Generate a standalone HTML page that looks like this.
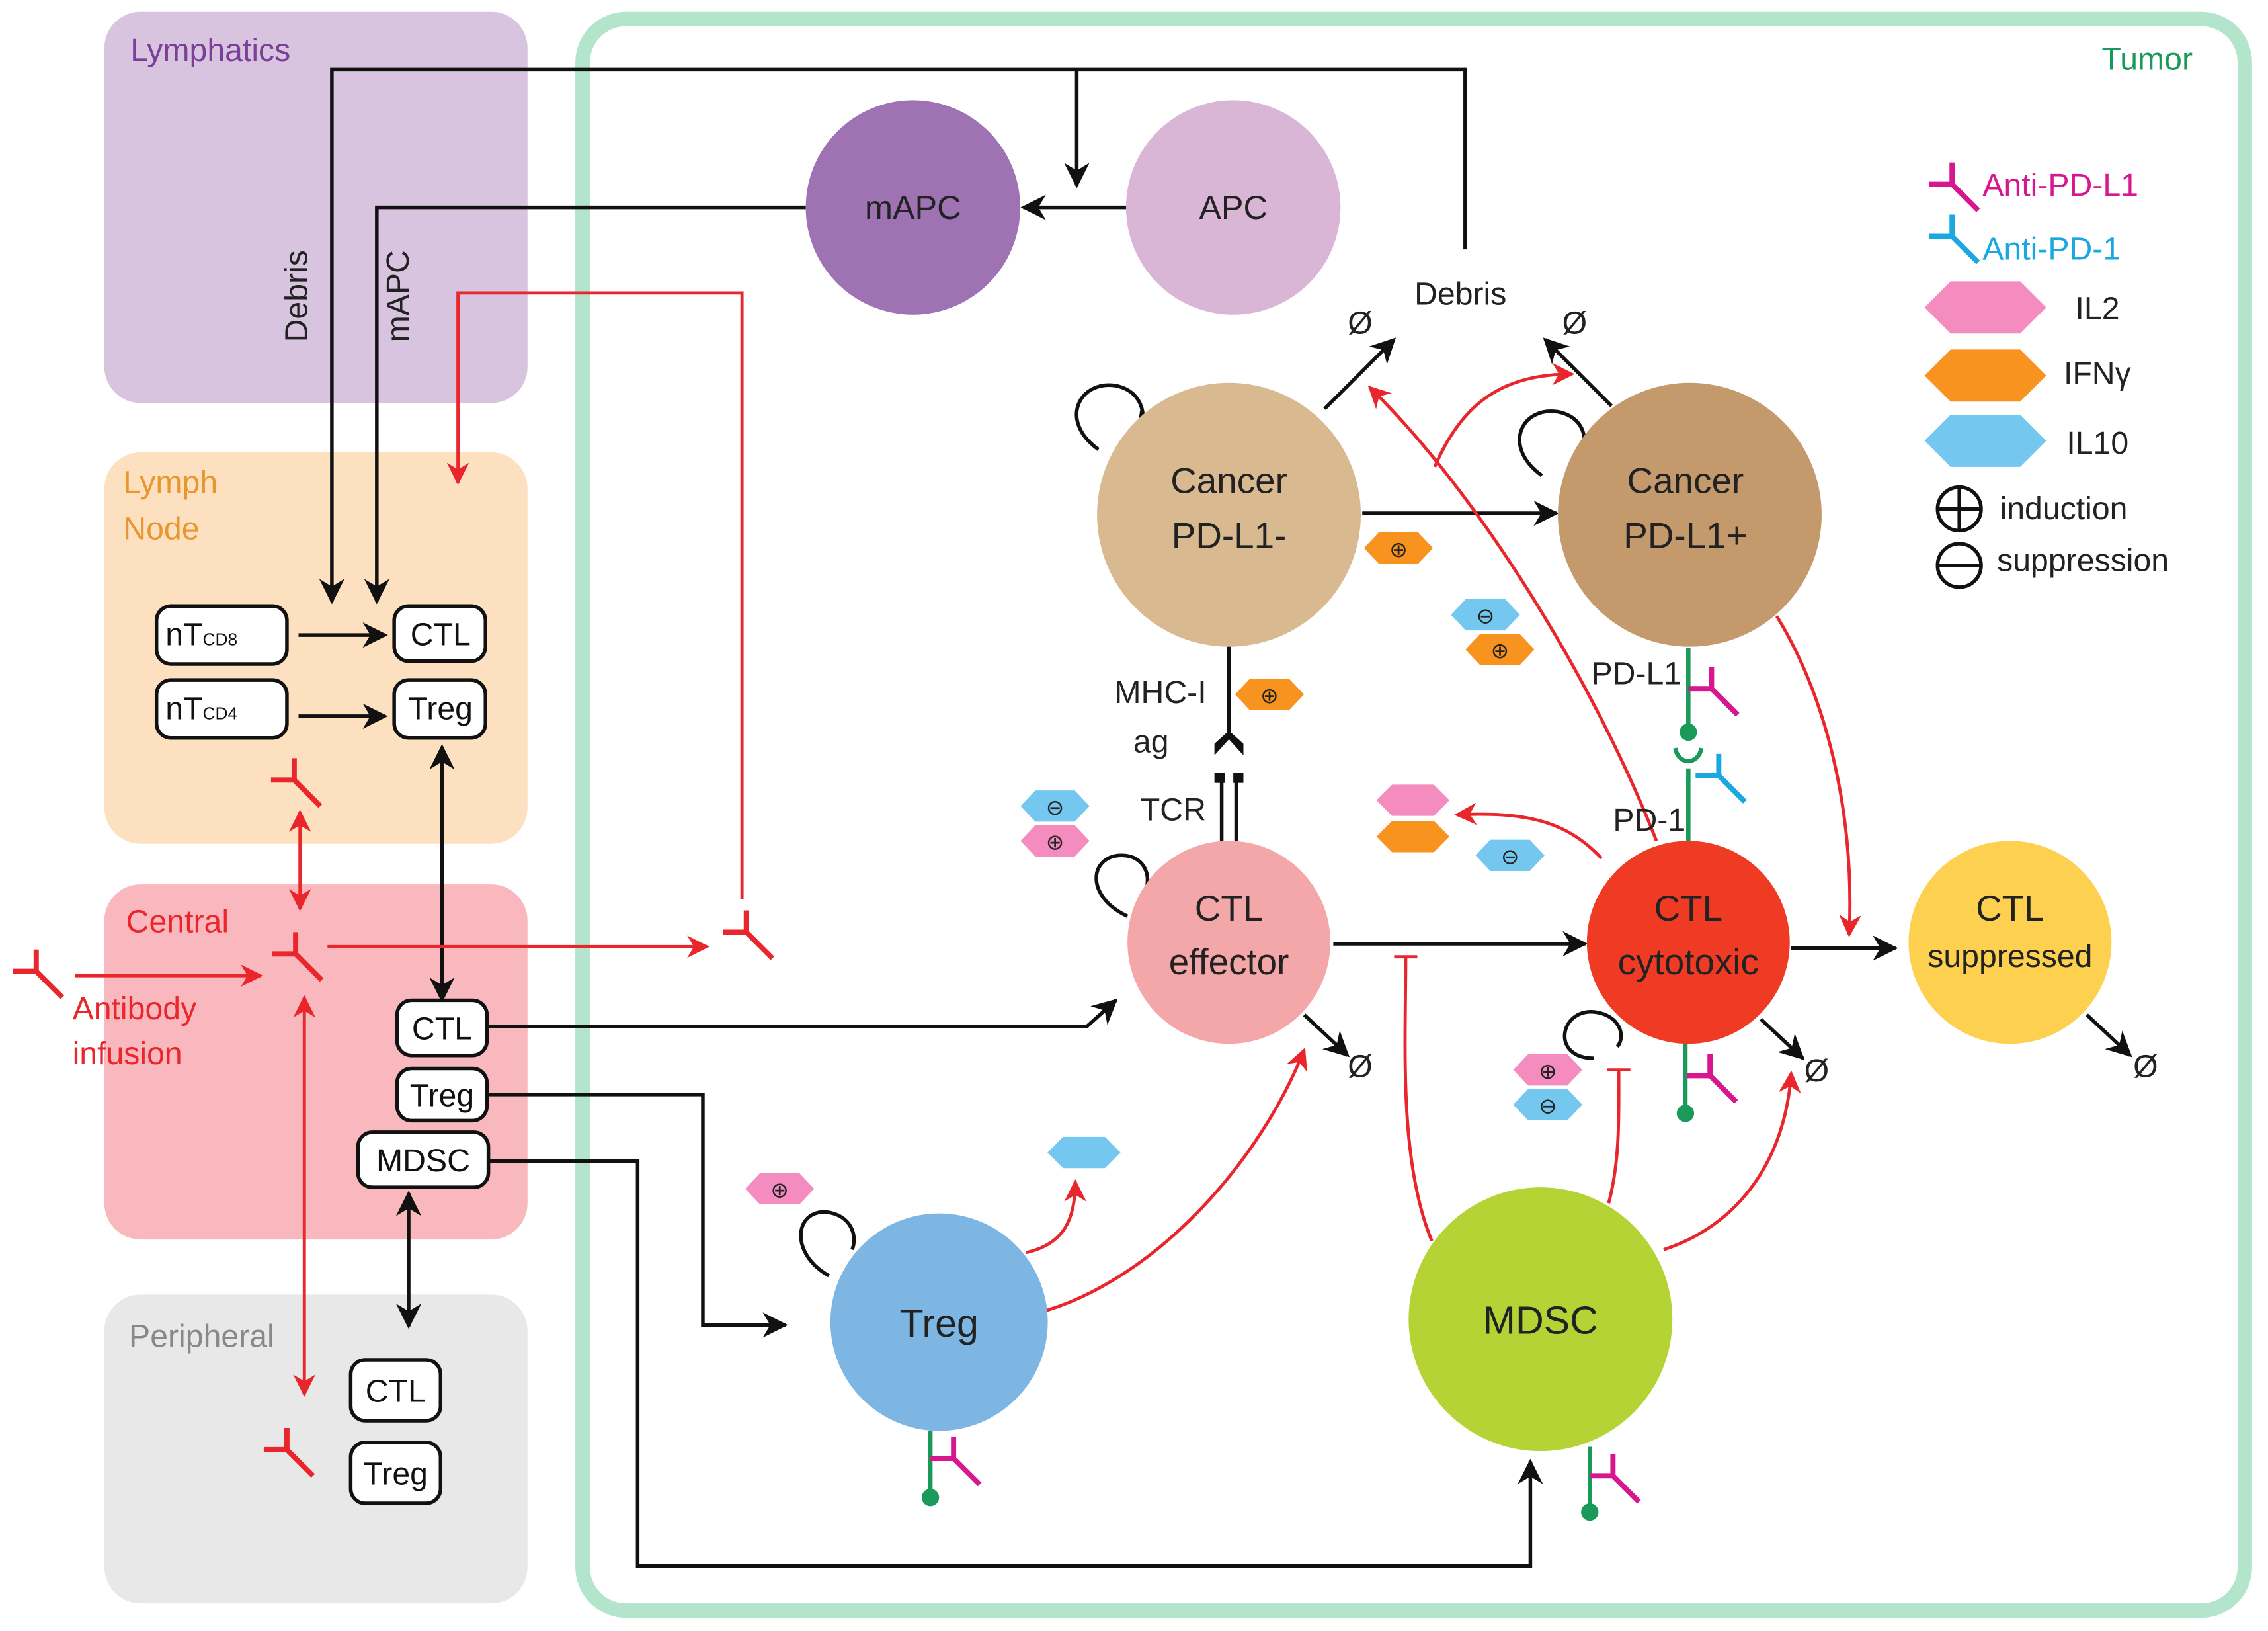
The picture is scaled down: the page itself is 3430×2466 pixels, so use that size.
<!DOCTYPE html>
<html><head><meta charset="utf-8"><style>
html,body{margin:0;padding:0;background:#fff}
svg{display:block}
text{font-family:"Liberation Sans","DejaVu Sans",sans-serif}
</style></head><body>
<svg width="3430" height="2466" viewBox="0 0 1565 1125" xmlns="http://www.w3.org/2000/svg">
<defs>
<marker id="ab" viewBox="0 0 10 10" refX="9" refY="5" markerWidth="7" markerHeight="7" orient="auto"><path d="M0,0 L10,5 L0,10 L3,5 z" fill="#111"/></marker>
<marker id="ar" viewBox="0 0 10 10" refX="9" refY="5" markerWidth="7" markerHeight="7" orient="auto"><path d="M0,0 L10,5 L0,10 L3,5 z" fill="#e8262b"/></marker>
<marker id="abs" viewBox="0 0 10 10" refX="1" refY="5" markerWidth="7" markerHeight="7" orient="auto"><path d="M10,0 L0,5 L10,10 L7,5 z" fill="#111"/></marker>
<marker id="ars" viewBox="0 0 10 10" refX="1" refY="5" markerWidth="7" markerHeight="7" orient="auto"><path d="M10,0 L0,5 L10,10 L7,5 z" fill="#e8262b"/></marker>
<g id="y"><path d="M0,0 V-15 M0,0 H-16 M0,0 L18,18" stroke-width="3.6" fill="none"/></g>
<g id="hx"><polygon points="-14,0 -8,-9 8,-9 14,0 8,9 -8,9"/></g>
</defs>
<!-- compartments -->
<rect x="72" y="8" width="292" height="270" rx="25" fill="#d9c4e0"/>
<text x="90" y="42" font-size="22" fill="#7b3f9a">Lymphatics</text>
<rect x="72" y="312" width="292" height="270" rx="25" fill="#fde0c0"/>
<text x="85" y="340" font-size="22" fill="#e8962e">Lymph</text>
<text x="85" y="372" font-size="22" fill="#e8962e">Node</text>
<rect x="72" y="610" width="292" height="245" rx="25" fill="#f9b8bd"/>
<text x="87" y="643" font-size="22" fill="#e8262b">Central</text>
<rect x="72" y="893" width="292" height="213" rx="25" fill="#e8e8e8"/>
<text x="89" y="929" font-size="22" fill="#888">Peripheral</text>
<rect x="402" y="13" width="1147" height="1098" rx="30" fill="none" stroke="#b3e4cc" stroke-width="10"/>
<text x="1513" y="48" font-size="22" fill="#1a9a5a" text-anchor="end">Tumor</text>

<!-- black connectors -->
<g stroke="#111" stroke-width="2.5" fill="none">
<path d="M1011,172 L1011,48 L229,48 L229,415" marker-end="url(#ab)"/>
<path d="M743,48 L743,128" marker-end="url(#ab)"/>
<path d="M778,143 L706,143" marker-end="url(#ab)"/>
<path d="M556,143 L260,143 L260,415" marker-end="url(#ab)"/>
<path d="M206,438 L266,438" marker-end="url(#ab)"/>
<path d="M206,494 L266,494" marker-end="url(#ab)"/>
<path d="M305,690 L305,515" marker-end="url(#ab)" marker-start="url(#abs)"/>
<path d="M282,915 L282,823" marker-end="url(#ab)" marker-start="url(#abs)"/>
<path d="M336,708 L750,708 L770,690" marker-end="url(#ab)"/>
<path d="M336,755 L485,755 L485,914 L542,914" marker-end="url(#ab)"/>
<path d="M337,801 L440,801 L440,1080 L1056,1080 L1056,1008" marker-end="url(#ab)"/>
<path d="M940,354 L1074,354" marker-end="url(#ab)"/>
<path d="M920,651 L1094,651" marker-end="url(#ab)"/>
<path d="M1236,654 L1308,654" marker-end="url(#ab)"/>
<path d="M914,282 L962,234" marker-end="url(#ab)"/>
<path d="M1112,280 L1066,234" marker-end="url(#ab)"/>
<path d="M900,700 L930,728" marker-end="url(#ab)"/>
<path d="M1215,703 L1244,730" marker-end="url(#ab)"/>
<path d="M1440,700 L1470,728" marker-end="url(#ab)"/>
<path d="M848,446 L848,505 M843,535 L843,580 M853,535 L853,580"/>
<path d="M758,310 C730,290 745,262 770,266 C790,270 792,290 785,300" marker-end="url(#ab)"/>
<path d="M1064,328 C1036,308 1050,280 1075,284 C1095,288 1096,306 1090,315"/>
<path d="M778,632 C748,618 752,590 774,590 C790,590 795,605 790,615"/>
<path d="M572,880 C545,865 548,835 570,836 C587,838 592,852 588,862"/>
<path d="M1100,730 C1070,730 1076,696 1100,698 C1118,700 1122,715 1116,722"/>
</g>
<polygon points="838,521 848,510 858,521 858,513 848,504 838,513" fill="#111"/>
<rect x="838" y="533" width="7" height="7" fill="#111"/><rect x="851" y="533" width="7" height="7" fill="#111"/>

<!-- red connectors -->
<g stroke="#e8262b" stroke-width="2.2" fill="none">
<path d="M512,620 L512,202 L316,202 L316,333" marker-end="url(#ar)"/>
<path d="M226,653 L488,653" marker-end="url(#ar)"/>
<path d="M52,673 L180,673" marker-end="url(#ar)"/>
<path d="M207,627 L207,560" marker-end="url(#ar)" marker-start="url(#ars)"/>
<path d="M210,688 L210,962" marker-start="url(#ars)" marker-end="url(#ar)"/>
<path d="M1143,580 C1100,470 1020,340 945,267" marker-end="url(#ar)"/>
<path d="M990,322 C1010,275 1040,258 1085,258" marker-end="url(#ar)"/>
<path d="M1226,425 C1260,480 1280,560 1276,645" marker-end="url(#ar)"/>
<path d="M1105,592 C1080,565 1050,560 1005,562" marker-end="url(#ar)"/>
<path d="M708,864 C735,858 742,840 742,815" marker-end="url(#ar)"/>
<path d="M722,904 C800,880 870,800 900,724" marker-end="url(#ar)"/>
<path d="M1148,862 C1200,845 1232,800 1236,740" marker-end="url(#ar)"/>
<path d="M988,856 C965,800 970,720 970,660 M962,660 L978,660"/>
<path d="M1110,830 C1118,800 1117,770 1117,738 M1109,738 L1125,738"/>
</g>

<!-- circles -->
<circle cx="630" cy="143" r="74" fill="#9e72b3"/>
<circle cx="851" cy="143" r="74" fill="#d9b6d6"/>
<circle cx="848" cy="355" r="91" fill="#d9b98f"/>
<circle cx="1166" cy="355" r="91" fill="#c49a6c"/>
<circle cx="848" cy="650" r="70" fill="#f4a7a8"/>
<circle cx="1165" cy="650" r="70" fill="#ef3b24"/>
<circle cx="1387" cy="650" r="70" fill="#fdd04f"/>
<circle cx="648" cy="912" r="75" fill="#7eb6e3"/>
<circle cx="1063" cy="910" r="91" fill="#b5d334"/>
<g font-size="25" fill="#222" text-anchor="middle">
<text x="630" y="151" font-size="23">mAPC</text>
<text x="851" y="151" font-size="23">APC</text>
<text x="848" y="340">Cancer</text><text x="848" y="378">PD-L1-</text>
<text x="1163" y="340">Cancer</text><text x="1163" y="378">PD-L1+</text>
<text x="848" y="635">CTL</text><text x="848" y="672">effector</text>
<text x="1165" y="635">CTL</text><text x="1165" y="672">cytotoxic</text>
<text x="1387" y="635">CTL</text><text x="1387" y="667" font-size="22">suppressed</text>
<text x="648" y="922" font-size="27">Treg</text>
<text x="1063" y="920" font-size="27">MDSC</text>
</g>

<!-- small boxes -->
<g fill="#fff" stroke="#111" stroke-width="2.5">
<rect x="108" y="418" width="90" height="40" rx="10"/><rect x="272" y="418" width="63" height="38" rx="10"/>
<rect x="108" y="469" width="90" height="40" rx="10"/><rect x="272" y="469" width="63" height="40" rx="10"/>
<rect x="274" y="690" width="62" height="38" rx="10"/><rect x="274" y="737" width="62" height="36" rx="10"/>
<rect x="247" y="781" width="90" height="38" rx="10"/>
<rect x="242" y="938" width="62" height="42" rx="10"/><rect x="242" y="995" width="62" height="42" rx="10"/>
</g>
<g font-size="22" fill="#111" text-anchor="middle">
<text x="139" y="445">nT<tspan font-size="12">CD8</tspan></text>
<text x="304" y="445">CTL</text>
<text x="139" y="496">nT<tspan font-size="12">CD4</tspan></text>
<text x="304" y="496">Treg</text>
<text x="305" y="717">CTL</text><text x="305" y="763">Treg</text><text x="292" y="808">MDSC</text>
<text x="273" y="967">CTL</text><text x="273" y="1024">Treg</text>
</g>
<g font-size="22" fill="#222">
<text transform="translate(212,236) rotate(-90)">Debris</text>
<text transform="translate(282,236) rotate(-90)">mAPC</text>
<text x="976" y="210">Debris</text>
<text x="769" y="485">MHC-I</text><text x="782" y="519">ag</text>
<text x="787" y="566">TCR</text>
<text x="1098" y="472">PD-L1</text>
<text x="1113" y="573">PD-1</text>
<text x="930" y="230">Ø</text><text x="1078" y="230">Ø</text>
<text x="930" y="743">Ø</text><text x="1245" y="746">Ø</text><text x="1472" y="743">Ø</text>
</g>
<g font-size="22" fill="#e8262b"><text x="50" y="703">Antibody</text><text x="50" y="734">infusion</text></g>

<!-- red antibodies -->
<g stroke="#e8262b">
<use href="#y" transform="translate(203,538)"/>
<use href="#y" transform="translate(204,658)"/>
<use href="#y" transform="translate(25,670)"/>
<use href="#y" transform="translate(515,643)"/>
<use href="#y" transform="translate(198,1000)"/>
</g>

<!-- receptors -->
<g stroke="#1a9a5a" stroke-width="3"><line x1="1165" y1="447" x2="1165" y2="500"/><line x1="1165" y1="530" x2="1165" y2="580"/>
<line x1="1163" y1="720" x2="1163" y2="765"/><line x1="642" y1="987" x2="642" y2="1030"/><line x1="1097" y1="998" x2="1097" y2="1040"/></g>
<path d="M1156,516 C1158,528 1172,528 1174,516" stroke="#1a9a5a" stroke-width="3" fill="none"/>
<g fill="#1a9a5a"><circle cx="1165" cy="505" r="6"/><circle cx="1163" cy="768" r="6"/><circle cx="642" cy="1033" r="6"/><circle cx="1097" cy="1043" r="6"/></g>
<g stroke="#d6178f">
<use href="#y" transform="translate(1181,475)"/>
<use href="#y" transform="translate(1180,742)"/>
<use href="#y" transform="translate(658,1006)"/>
<use href="#y" transform="translate(1113,1018)"/>
<use href="#y" transform="translate(1347,127)"/>
</g>
<g stroke="#1ba8e0">
<use href="#y" transform="translate(1186,535)"/>
<use href="#y" transform="translate(1347,163)"/>
</g>

<!-- hexagons -->
<g font-size="15" text-anchor="middle" fill="#222">
<use href="#hx" transform="translate(965,378) scale(1.7,1.2)" fill="#f7931e"/><text x="965" y="384">⊕</text>
<use href="#hx" transform="translate(876,479) scale(1.7,1.2)" fill="#f7931e"/><text x="876" y="485">⊕</text>
<use href="#hx" transform="translate(1025,424) scale(1.7,1.2)" fill="#74c7ee"/><text x="1025" y="430">⊖</text>
<use href="#hx" transform="translate(1035,448) scale(1.7,1.2)" fill="#f7931e"/><text x="1035" y="454">⊕</text>
<use href="#hx" transform="translate(728,556) scale(1.7,1.2)" fill="#74c7ee"/><text x="728" y="562">⊖</text>
<use href="#hx" transform="translate(728,580) scale(1.7,1.2)" fill="#f48cc0"/><text x="728" y="586">⊕</text>
<use href="#hx" transform="translate(975,552) scale(1.8,1.2)" fill="#f48cc0"/>
<use href="#hx" transform="translate(975,577) scale(1.8,1.2)" fill="#f7931e"/>
<use href="#hx" transform="translate(1042,590) scale(1.7,1.2)" fill="#74c7ee"/><text x="1042" y="596">⊖</text>
<use href="#hx" transform="translate(1068,738) scale(1.7,1.2)" fill="#f48cc0"/><text x="1068" y="744">⊕</text>
<use href="#hx" transform="translate(1068,762) scale(1.7,1.2)" fill="#74c7ee"/><text x="1068" y="768">⊖</text>
<use href="#hx" transform="translate(538,820) scale(1.7,1.2)" fill="#f48cc0"/><text x="538" y="826">⊕</text>
<use href="#hx" transform="translate(748,795) scale(1.8,1.2)" fill="#74c7ee"/>
</g>

<!-- legend -->
<g font-size="22">
<text x="1368" y="135" fill="#d6178f">Anti-PD-L1</text>
<text x="1368" y="179" fill="#1ba8e0">Anti-PD-1</text>
<use href="#hx" transform="translate(1370,212) scale(3,2)" fill="#f48cc0"/><text x="1432" y="220" fill="#222">IL2</text>
<use href="#hx" transform="translate(1370,259) scale(3,2)" fill="#f7931e"/><text x="1424" y="265" fill="#222">IFNγ</text>
<use href="#hx" transform="translate(1370,304) scale(3,2)" fill="#74c7ee"/><text x="1426" y="313" fill="#222">IL10</text>
<circle cx="1352" cy="351" r="15" fill="none" stroke="#111" stroke-width="2.5"/><path d="M1337,351 H1367 M1352,336 V366" stroke="#111" stroke-width="2.5"/>
<text x="1380" y="358" fill="#222">induction</text>
<circle cx="1352" cy="390" r="15" fill="none" stroke="#111" stroke-width="2.5"/><path d="M1337,390 H1367" stroke="#111" stroke-width="2.5"/>
<text x="1378" y="394" fill="#222">suppression</text>
</g>
</svg>
</body></html>
